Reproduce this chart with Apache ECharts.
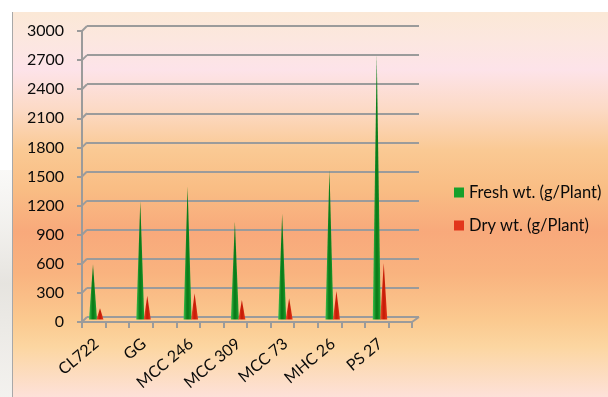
<!DOCTYPE html>
<html>
<head>
<meta charset="utf-8">
<script src="https://cdn.jsdelivr.net/npm/echarts@6/dist/echarts.min.js"></script>
<style>
  html, body { margin: 0; padding: 0; background: #ffffff; }
  #chart { width: 608px; height: 397px; }
</style>
</head>
<body>
<div id="chart"></div>
<script>
// Plant biomass per genotype (g/Plant)
const categories = ['CL722', 'GG', 'MCC 246', 'MCC 309', 'MCC 73', 'MHC 26', 'PS 27'];
const freshWt = [570, 1220, 1370, 1010, 1090, 1540, 2730];
const dryWt = [115, 245, 270, 200, 220, 295, 580];
const seriesNames = ['Fresh wt. (g/Plant)', 'Dry wt. (g/Plant)'];
const yMin = 0;
const yMax = 3000;
const yStep = 300;
const yTicks = [0, 300, 600, 900, 1200, 1500, 1800, 2100, 2400, 2700, 3000];

const FONT = 'Lato';
const TEXT = '#0a0a0a';
const GRID_GREY = '#9b9b9b';

const chart = echarts.init(document.getElementById('chart'), null, { renderer: 'canvas' });

// cone fill: light flanks, dark spine
function coneFill(edgeL, mid, edgeR) {
  return new echarts.graphic.LinearGradient(0, 0, 1, 0, [
    { offset: 0, color: edgeL },
    { offset: 0.42, color: mid },
    { offset: 0.58, color: mid },
    { offset: 1, color: edgeR }
  ]);
}

const option = {
  animation: false,
  backgroundColor: '#ffffff',
  graphic: [
    // faint strip left of the chart panel
    {
      type: 'rect', left: 0, top: 170, z: -20,
      shape: { width: 12, height: 227 },
      style: {
        fill: new echarts.graphic.LinearGradient(0, 0, 0, 1, [
          { offset: 0, color: 'rgba(220,215,205,0.15)' },
          { offset: 0.5, color: 'rgba(200,195,185,0.45)' },
          { offset: 1, color: 'rgba(215,210,200,0.3)' }
        ])
      }
    },
    // chart panel with vertical gradient
    {
      type: 'rect', left: 12, top: 12, z: -10,
      shape: { width: 596, height: 385 },
      style: {
        fill: new echarts.graphic.LinearGradient(0, 0, 0, 1, [
          { offset: 0.00, color: '#fbe8d6' },
          { offset: 0.07, color: '#fce7df' },
          { offset: 0.15, color: '#fde3e9' },
          { offset: 0.25, color: '#fcdac6' },
          { offset: 0.36, color: '#fac993' },
          { offset: 0.46, color: '#f9bd84' },
          { offset: 0.57, color: '#f8a97b' },
          { offset: 0.68, color: '#f9b37f' },
          { offset: 0.80, color: '#fbc98f' },
          { offset: 0.87, color: '#fcd6a1' },
          { offset: 1.00, color: '#fde1d9' }
        ])
      }
    },
    {
      type: 'line', z: -5,
      shape: { x1: 12.5, y1: 12, x2: 12.5, y2: 397 },
      style: { stroke: '#a8a8a8', lineWidth: 1 }
    }
  ],
  legend: {
    orient: 'vertical',
    left: 454,
    top: 184,
    padding: 0,
    itemWidth: 10,
    itemHeight: 10,
    itemGap: 16,
    icon: 'rect',
    textStyle: { fontFamily: FONT, fontSize: 16.5, color: TEXT },
    data: [
      { name: seriesNames[0], itemStyle: { color: '#17a02b' } },
      { name: seriesNames[1], itemStyle: { color: '#e2361c' } }
    ]
  },
  grid: [
    // back wall
    { left: 87, right: 189, top: 26, bottom: 80 },
    // front edge (axes)
    { left: 82, right: 196, top: 31, bottom: 75 },
    // cones on mid-depth floor
    { left: 72.85, right: 204.1, top: 28.5, bottom: 77.5 }
  ],
  xAxis: [
    {
      gridIndex: 0, type: 'category', data: categories,
      axisLine: { show: false }, axisTick: { show: false }, axisLabel: { show: false }
    },
    {
      gridIndex: 1, type: 'value', min: 0, max: 2 * categories.length, interval: 1,
      axisLine: { show: true, lineStyle: { color: GRID_GREY, width: 2 } },
      axisTick: { show: true, length: 6, lineStyle: { color: GRID_GREY, width: 2 } },
      axisLabel: { show: false },
      splitLine: { show: false }
    },
    {
      gridIndex: 2, type: 'category', data: categories,
      axisLine: { show: false }, axisTick: { show: false },
      axisLabel: {
        rotate: 40, margin: 22, interval: 0,
        fontFamily: FONT, fontSize: 16, color: TEXT
      }
    }
  ],
  yAxis: [
    {
      gridIndex: 0, type: 'value', min: yMin, max: yMax, interval: yStep,
      axisLine: { show: false }, axisTick: { show: false }, axisLabel: { show: false },
      splitLine: { show: true, lineStyle: { color: GRID_GREY, width: 2 } }
    },
    {
      gridIndex: 1, type: 'value', min: yMin, max: yMax, interval: yStep,
      axisLine: { show: true, lineStyle: { color: GRID_GREY, width: 2 } },
      axisTick: { show: true, length: 5, lineStyle: { color: GRID_GREY, width: 2 } },
      axisLabel: {
        margin: 18, fontFamily: FONT, fontSize: 16, color: TEXT,
        formatter: v => String(v)
      },
      splitLine: { show: false }
    },
    {
      gridIndex: 2, type: 'value', min: yMin, max: yMax, interval: yStep,
      show: false, splitLine: { show: false }
    }
  ],
  series: [
    // short slanted edges joining the front axis to the back wall gridlines
    {
      type: 'custom',
      xAxisIndex: 0, yAxisIndex: 0,
      silent: true, z: 1,
      data: yTicks.map(v => [0, v]),
      renderItem: function (params, api) {
        const cs = params.coordSys;
        const y = api.coord([0, api.value(1)])[1];
        const children = [{
          type: 'line',
          shape: { x1: cs.x - 5, y1: y + 5, x2: cs.x, y2: y },
          style: { stroke: GRID_GREY, lineWidth: 2 }
        }];
        if (api.value(1) === yMin) {
          children.push({
            type: 'line',
            shape: { x1: cs.x + cs.width - 7, y1: y + 5, x2: cs.x + cs.width, y2: y },
            style: { stroke: GRID_GREY, lineWidth: 2 }
          });
        }
        return { type: 'group', children: children };
      }
    },
    {
      name: seriesNames[0],
      type: 'pictorialBar',
      xAxisIndex: 2, yAxisIndex: 2,
      symbol: 'triangle',
      symbolSize: [8, '100%'],
      barWidth: 7,
      barGap: '0%',
      z: 5,
      itemStyle: { color: coneFill('#3cc24c', '#0b7d1a', '#22a733') },
      data: freshWt
    },
    {
      name: seriesNames[1],
      type: 'pictorialBar',
      xAxisIndex: 2, yAxisIndex: 2,
      symbol: 'triangle',
      symbolSize: [7, '100%'],
      barWidth: 7,
      barGap: '0%',
      z: 6,
      itemStyle: { color: coneFill('#f4502e', '#c81e08', '#e63a1c') },
      data: dryWt
    }
  ]
};

chart.setOption(option);
</script>
</body>
</html>
